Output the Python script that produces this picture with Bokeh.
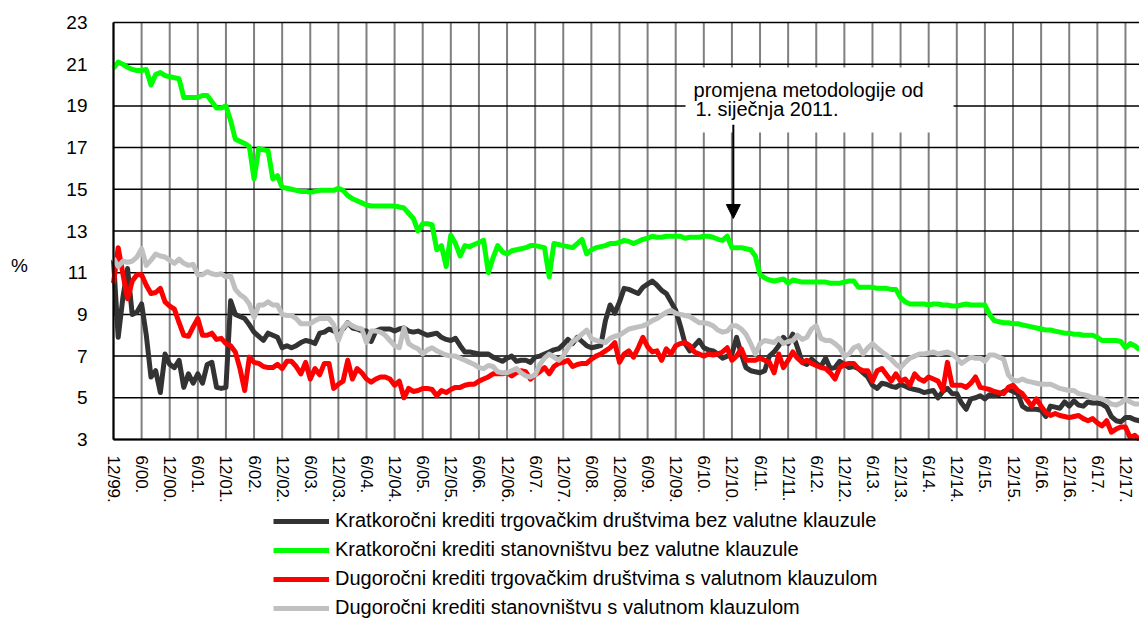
from bokeh.plotting import figure
from bokeh.models import (Range1d, FixedTicker, Legend, LegendItem, Label, Arrow,
                          NormalHead, BoxAnnotation, LinearAxis)
from bokeh.embed import file_html
from bokeh.resources import INLINE

# month index: 0 = 12/1999, 1 = 1/2000, ...
months = list(range(220))

tick_pos = list(range(0, 217, 6))
tick_labels = ["12/99.", "6/00.", "12/00.", "6/01.", "12/01.", "6/02.", "12/02.", "6/03.",
               "12/03.", "6/04.", "12/04.", "6/05.", "12/05.", "6/06.", "12/06.", "6/07.",
               "12/07.", "6/08.", "12/08.", "6/09.", "12/09.", "6/10.", "12/10.", "6/11.",
               "12/11.", "6/12.", "12/12.", "6/13.", "12/13.", "6/14.", "12/14.", "6/15.",
               "12/15.", "6/16.", "12/16.", "6/17.", "12/17."]
y_ticks = [3, 5, 7, 9, 11, 13, 15, 17, 19, 21, 23]

names = ["Kratkoročni krediti trgovačkim društvima bez valutne klauzule",
         "Kratkoročni krediti stanovništvu bez valutne klauzule",
         "Dugoročni krediti trgovačkim društvima s valutnom klauzulom",
         "Dugoročni krediti stanovništvu s valutnom klauzulom"]

kratk_td = [
    11.6, 7.9, 9.8, 11.2, 9.0, 9.1, 9.5, 8.0, 6.0, 6.3, 5.25, 7.1,
    6.6, 6.45, 6.8, 5.5, 6.15, 5.7, 6.15, 5.7, 6.6, 6.7, 5.5, 5.45,
    5.5, 9.65, 9.0, 8.9, 8.8, 8.5, 8.15, 7.95, 7.75, 8.1, 8.0, 7.9,
    7.4, 7.5, 7.4, 7.5, 7.65, 7.75, 7.7, 7.6, 8.1, 8.15, 8.3, 8.2,
    8.1, 8.3, 8.6, 8.35, 8.3, 8.2, 8.2, 7.7, 8.2, 8.3, 8.3, 8.3,
    8.2, 8.3, 8.35, 8.2, 8.15, 8.2, 8.1, 8.0, 8.05, 8.1, 7.9, 7.8,
    7.75, 7.85, 7.5, 7.2, 7.2, 7.15, 7.1, 7.1, 7.1, 6.95, 6.85, 6.75,
    6.9, 7.0, 6.75, 6.8, 6.8, 6.7, 6.95, 7.0, 7.1, 7.2, 7.3, 7.35,
    7.55, 7.8, 7.6, 7.9, 7.7, 7.5, 7.4, 7.45, 7.5, 8.7, 9.45, 9.05,
    9.6, 10.25, 10.2, 10.1, 10.0, 10.3, 10.45, 10.6, 10.4, 10.15, 10.0, 9.6,
    9.2, 8.45, 7.6, 7.25, 7.5, 7.75, 7.4, 7.3, 7.25, 7.1, 6.9, 7.0,
    7.1, 7.9, 7.1, 6.45, 6.3, 6.25, 6.2, 6.3, 7.0, 7.2, 7.5, 7.9,
    7.6, 8.05, 7.4, 6.7, 6.6, 6.85, 6.65, 6.5, 6.9, 6.4, 6.45, 6.75,
    6.6, 6.45, 6.5, 6.4, 6.2, 6.0, 5.6, 5.45, 5.7, 5.65, 5.55, 5.5,
    5.65, 5.55, 5.45, 5.4, 5.35, 5.25, 5.3, 5.35, 5.0, 5.3, 5.45, 5.2,
    5.2, 4.75, 4.45, 4.95, 5.0, 5.1, 4.95, 5.15, 5.1, 5.15, 5.3, 5.4,
    5.3, 5.2, 4.6, 4.45, 4.45, 4.45, 4.4, 4.1, 4.6, 4.55, 4.5, 4.8,
    4.6, 4.85, 4.65, 4.6, 4.8, 4.75, 4.75, 4.7, 4.55, 4.1, 3.9, 3.85,
    4.05, 4.05, 3.95, 3.9]

kratk_st = [
    20.8, 21.1, 21.0, 20.85, 20.75, 20.7, 20.7, 20.75, 20.0, 20.5, 20.6, 20.45,
    20.4, 20.35, 20.3, 19.4, 19.4, 19.4, 19.4, 19.5, 19.5, 19.2, 18.9, 18.9,
    19.0, 18.3, 17.4, 17.3, 17.2, 17.05, 15.5, 16.95, 16.9, 16.85, 15.5, 15.65,
    15.1, 15.05, 15.0, 14.95, 14.9, 14.9, 14.85, 14.9, 14.95, 14.95, 14.95, 14.95,
    15.05, 14.95, 14.7, 14.55, 14.45, 14.35, 14.25, 14.2, 14.2, 14.2, 14.2, 14.2,
    14.2, 14.15, 14.1, 13.85, 13.6, 13.0, 13.35, 13.35, 13.3, 12.1, 12.3, 11.3,
    12.8, 12.4, 11.8, 12.3, 12.25, 12.35, 12.45, 12.55, 11.0, 11.7, 12.3, 12.0,
    11.9, 12.05, 12.1, 12.15, 12.2, 12.3, 12.3, 12.25, 12.2, 10.8, 12.4, 12.35,
    12.3, 12.25, 12.2, 12.4, 12.6, 11.9, 12.1, 12.2, 12.25, 12.3, 12.4, 12.4,
    12.45, 12.55, 12.5, 12.4, 12.5, 12.6, 12.65, 12.75, 12.7, 12.7, 12.75, 12.75,
    12.75, 12.75, 12.65, 12.7, 12.7, 12.7, 12.75, 12.75, 12.7, 12.6, 12.55, 12.75,
    12.2, 12.2, 12.2, 12.15, 12.1, 11.8, 10.9, 10.75, 10.65, 10.6, 10.65, 10.7,
    10.5, 10.65, 10.6, 10.55, 10.55, 10.55, 10.55, 10.55, 10.55, 10.5, 10.5, 10.5,
    10.55, 10.6, 10.6, 10.3, 10.3, 10.3, 10.3, 10.25, 10.25, 10.25, 10.2, 10.2,
    9.8, 9.6, 9.5, 9.5, 9.5, 9.5, 9.45, 9.5, 9.5, 9.45, 9.45, 9.4,
    9.4, 9.45, 9.5, 9.45, 9.45, 9.45, 9.45, 9.0, 8.7, 8.65, 8.6, 8.6,
    8.55, 8.55, 8.5, 8.45, 8.4, 8.35, 8.3, 8.25, 8.25, 8.2, 8.15, 8.1,
    8.1, 8.05, 8.05, 8.0, 8.0, 8.0, 7.9, 7.75, 7.75, 7.75, 7.75, 7.7,
    7.4, 7.6, 7.5, 7.3]

dug_td = [
    10.5, 12.2, 10.95, 9.75, 10.6, 10.9, 10.9, 10.4, 10.0, 10.05, 10.25, 9.6,
    9.4, 9.25, 8.6, 8.0, 7.95, 8.4, 8.8, 8.0, 8.0, 8.1, 7.8, 7.85,
    7.6, 7.5, 7.2, 6.4, 5.35, 6.95, 6.7, 6.65, 6.5, 6.45, 6.45, 6.6,
    6.4, 6.75, 6.75, 6.5, 6.15, 6.7, 5.9, 6.4, 6.1, 6.65, 6.65, 5.45,
    5.65, 5.8, 6.8, 5.9, 6.4, 6.2, 5.9, 5.75, 5.9, 6.0, 6.0, 5.9,
    5.6, 5.8, 5.0, 5.45, 5.3, 5.35, 5.45, 5.45, 5.4, 5.1, 5.35, 5.25,
    5.4, 5.5, 5.5, 5.6, 5.65, 5.65, 5.8, 5.9, 6.0, 6.15, 6.15, 6.15,
    6.2, 6.05, 6.2, 6.3, 6.25, 5.9, 6.1, 6.25, 6.45, 6.15, 6.5, 6.65,
    6.7, 6.8, 6.5, 6.6, 6.65, 6.65, 6.85, 7.0, 7.1, 7.25, 7.4, 7.65,
    6.7, 7.1, 7.25, 6.95, 7.4, 7.9, 7.45, 7.2, 7.25, 6.8, 7.35, 7.1,
    7.5, 7.6, 7.65, 7.5, 7.2, 7.1, 7.0, 7.1, 7.05, 7.1, 7.2, 7.4,
    6.8, 7.0, 7.35, 6.8, 6.8, 6.8, 6.9, 6.8, 6.7, 6.2, 7.1, 6.45,
    6.8, 7.2, 6.9, 6.7, 6.8, 6.65, 6.55, 6.45, 6.4, 6.2, 5.9, 6.45,
    6.6, 6.65, 6.65, 6.4, 6.3, 6.3, 5.8, 6.3, 6.4, 6.1, 5.8, 6.15,
    5.8, 5.9, 5.6, 6.15, 5.9, 5.8, 6.0, 5.9, 5.8, 5.35, 6.7, 5.6,
    5.6, 5.6, 5.5, 5.7, 6.0, 5.5, 5.45, 5.4, 5.3, 5.25, 5.2, 5.5,
    5.6, 5.35, 5.2, 4.9, 4.6, 4.95, 4.6, 4.3, 4.15, 4.25, 4.15, 4.1,
    4.05, 4.1, 4.15, 4.0, 3.9, 4.0, 3.8, 3.65, 3.9, 3.35, 3.5, 3.6,
    3.6, 3.1, 3.2, 3.0]

dug_st = [
    11.7, 11.3, 11.55, 11.5, 11.55, 11.75, 12.15, 11.35, 11.6, 11.9, 11.8, 11.75,
    11.6, 11.45, 11.65, 11.45, 11.35, 11.4, 10.9, 10.9, 11.05, 10.95, 10.9, 10.95,
    10.8, 10.85, 10.2, 9.95, 9.8, 9.5, 8.85, 9.45, 9.45, 9.6, 9.45, 9.45,
    9.0, 8.95, 8.95, 8.8, 8.55, 8.55, 8.55, 8.7, 8.8, 8.8, 8.8, 8.5,
    7.75, 8.35, 8.6, 8.45, 8.35, 8.3, 7.65, 8.2, 8.2, 8.15, 8.0, 7.75,
    7.5, 7.4, 8.35, 7.6, 7.45, 7.35, 7.1, 7.3, 7.4, 7.25, 7.15, 7.05,
    7.0, 7.0, 6.9, 6.8, 6.7, 6.6, 6.45, 6.4, 6.55, 6.5, 6.25, 6.2,
    6.2, 6.3, 6.4, 6.2, 6.05, 6.0, 6.1, 6.6, 6.9, 7.1, 6.95, 6.8,
    7.0, 7.4, 7.7, 7.85, 8.05, 8.25, 7.85, 7.75, 7.7, 7.65, 7.85, 7.95,
    8.0, 8.15, 8.3, 8.35, 8.4, 8.45, 8.55, 8.7, 8.8, 8.95, 9.1, 9.2,
    9.05, 9.0, 8.95, 8.9, 8.75, 8.6, 8.6, 8.55, 8.45, 8.25, 8.15, 8.2,
    8.45, 8.45, 8.3, 8.05, 7.6, 7.1, 7.6, 7.75, 7.7, 7.65, 7.85, 7.6,
    7.7, 7.75, 8.0, 7.8, 7.9, 8.3, 8.45, 7.85, 7.75, 7.75, 7.6, 7.4,
    7.0, 7.1, 7.4, 7.5, 7.1, 7.4, 7.6, 7.4, 7.2, 7.05, 6.85, 6.6,
    6.45, 6.7, 6.9, 7.0, 7.1, 7.1, 7.15, 7.2, 7.1, 7.15, 7.2, 7.1,
    6.9, 6.65, 6.8, 6.95, 6.9, 6.9, 6.75, 7.05, 7.05, 6.95, 6.85, 6.1,
    5.85, 5.8, 5.9, 5.8, 5.75, 5.7, 5.65, 5.65, 5.65, 5.55, 5.45, 5.4,
    5.35, 5.35, 5.2, 5.15, 5.1, 5.0, 5.0, 4.95, 4.85, 4.7, 4.65, 4.75,
    4.95, 4.8, 4.7, 4.7]

series = [kratk_td, kratk_st, dug_td, dug_st]
colors = ["#333333", "#00ff00", "#ff0000", "#c0c0c0"]

FONT = "Liberation Sans"

# The frame fills the whole canvas; the plotting area (3..23, 0..219) sits inside it
# so that tick labels, unit label and legend are not clipped.
W, H = 1139, 619
PX_LEFT, PX_TOP, PX_BOTTOM = 113, 22, 439
px_per_month = 4.685
px_per_unit = (PX_BOTTOM - PX_TOP) / 20.0
x0 = -PX_LEFT / px_per_month
x1 = (W - PX_LEFT) / px_per_month
y1 = 23 + PX_TOP / px_per_unit
y0 = 3 - (H - PX_BOTTOM) / px_per_unit
y_lo, y_hi = y_ticks[0], y_ticks[-1]

p = figure(width=W, height=H, output_backend="svg", toolbar_location=None,
           x_range=Range1d(x0, x1), y_range=Range1d(y0, y1),
           x_axis_location=None, y_axis_location=None,
           min_border_left=0, min_border_right=0, min_border_top=0, min_border_bottom=0)
p.outline_line_color = None
p.background_fill_color = "white"
p.border_fill_color = "white"
for g in p.grid:
    g.visible = False

# grid lines limited to the plotting area
p.segment(x0=tick_pos, y0=[y_lo] * len(tick_pos), x1=tick_pos, y1=[y_hi] * len(tick_pos),
          line_color="#808080", line_width=2, level="underlay")
p.segment(x0=[0] * len(y_ticks), y0=y_ticks, x1=[x1] * len(y_ticks), y1=y_ticks,
          line_color="#000000", line_width=1.5, level="underlay")

xaxis = LinearAxis(fixed_location=y_lo, bounds=(0, x1), ticker=FixedTicker(ticks=tick_pos),
                   major_label_overrides={t: l for t, l in zip(tick_pos, tick_labels)},
                   major_label_orientation="vertical", major_label_text_font=FONT,
                   major_label_text_font_size="17px", major_label_text_color="black",
                   major_label_standoff=10, major_tick_line_color=None,
                   minor_tick_line_color=None, axis_line_width=2, axis_line_color="black")
p.add_layout(xaxis, "below")

yaxis = LinearAxis(fixed_location=0, bounds=(y_lo, y_hi), ticker=FixedTicker(ticks=y_ticks),
                   major_label_text_font=FONT, major_label_text_font_size="19px",
                   major_label_text_color="black", major_label_standoff=20,
                   major_tick_line_color=None, minor_tick_line_color=None,
                   axis_line_width=2, axis_line_color="black")
p.add_layout(yaxis, "left")

renderers = []
for s, c in zip(series, colors):
    r = p.line(months, s, line_color=c, line_width=5, line_join="round")
    renderers.append(r)

legend = Legend(items=[LegendItem(label=n, renderers=[r]) for n, r in zip(names, renderers)],
                location=(273, 0), padding=0, spacing=6, margin=0,
                glyph_width=56, glyph_height=20, label_height=20, label_standoff=6,
                label_text_font=FONT, label_text_font_size="20px",
                label_text_color="black", border_line_color=None,
                background_fill_alpha=0)
p.add_layout(legend, "center")

p.add_layout(Label(x=-20.06, y=11.35, text="%", text_font=FONT, text_font_size="19px",
                   text_align="center", text_baseline="middle", text_color="black"))

# annotation box with arrow
p.add_layout(BoxAnnotation(left=122.1, right=179.3, top=20.84, bottom=17.72,
                           fill_color="white", fill_alpha=1.0, line_color=None))
p.add_layout(Arrow(end=NormalHead(size=14, fill_color="black", line_color="black"),
                   x_start=132.3, y_start=18.1, x_end=132.3, y_end=13.6,
                   line_width=2, line_color="black"))
p.add_layout(Label(x=123.8, y=19.74, text="promjena metodologije od", text_font=FONT,
                   text_font_size="20px", text_baseline="middle", text_color="black"))
p.add_layout(Label(x=124.2, y=18.83, text="1. siječnja 2011.", text_font=FONT,
                   text_font_size="20px", text_baseline="middle", text_color="black"))

open("out.html", "w").write(file_html(p, INLINE))
